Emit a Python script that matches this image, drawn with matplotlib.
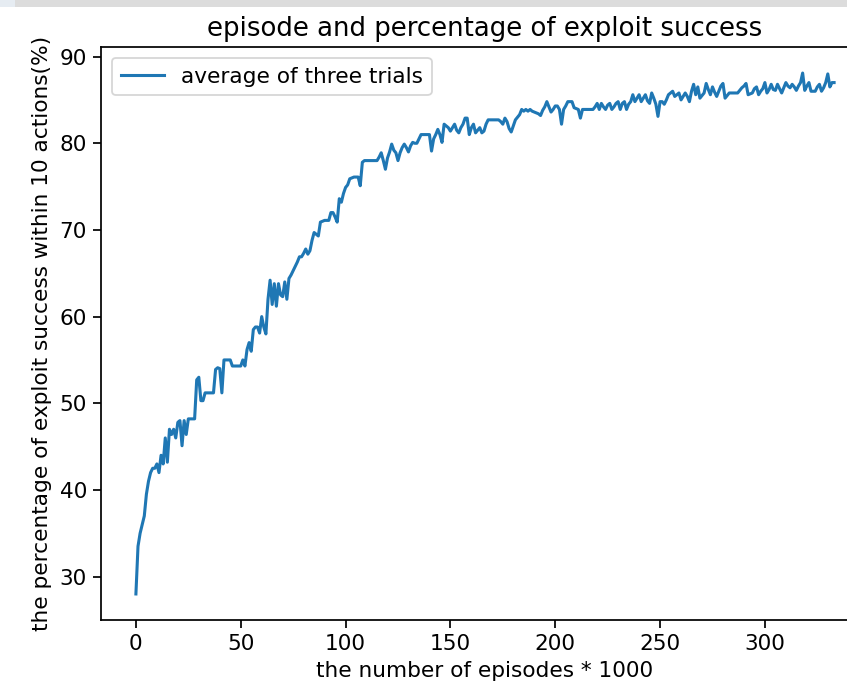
import matplotlib
matplotlib.use("Agg")
import matplotlib.pyplot as plt
from matplotlib.patches import Rectangle

title = "episode and percentage of exploit success"
xlabel = "the number of episodes * 1000"
ylabel = "the percentage of exploit success within 10 actions(%)"
legend_label = "average of three trials"

success_rate = [
    28, 33.5, 35, 36, 37, 39.5, 41, 42, 42.5, 42.5,
    43, 42, 44, 43, 46, 43.2, 47, 46.4, 47, 46,
    47.8, 48, 45.1, 48, 46.4, 48.2, 48.2, 48.2, 48.2, 52.7,
    53, 50.3, 50.3, 51.2, 51.2, 51.2, 51.2, 51.2, 53.9, 54.1,
    54, 51.2, 55, 55, 55, 55, 54.3, 54.3, 54.3, 54.3,
    54.3, 55, 54.3, 56.2, 57, 56, 58.5, 58.8, 58.8, 58.1,
    60, 58.8, 58, 62, 64.2, 61.4, 63.8, 61.2, 63.8, 62.5,
    62.3, 64, 62, 64.4, 64.8, 65.3, 65.8, 66.3, 66.9, 66.9,
    67.3, 67.8, 67.2, 67.6, 68.8, 69.7, 69.5, 69.3, 70.9, 71,
    71.1, 71.1, 71.1, 72, 72, 71.5, 70.9, 73.6, 73.2, 74.2,
    74.9, 75.2, 75.9, 76, 76.1, 76.1, 76.1, 75.1, 77.8, 78,
    78, 78, 78, 78, 78, 78, 78.4, 78.9, 78, 77,
    78.3, 79, 79.9, 79.2, 78.9, 78, 78.9, 79.5, 79.9, 79.5,
    79, 79.7, 80.1, 80, 80, 80.5, 81, 81, 81, 81,
    81, 79.1, 80.5, 81, 81.6, 81, 80.1, 82.2, 82, 81.8,
    81.4, 81.8, 82.2, 81.5, 81.2, 81.8, 82.2, 82.9, 82.9, 81,
    81.8, 82.2, 81.2, 81.5, 81.8, 81.2, 81.4, 82.2, 82.7, 82.7,
    82.7, 82.7, 82.7, 82.7, 82.5, 82.2, 82.9, 82.5, 81.7, 81.3,
    82, 82.7, 83, 83.3, 83.9, 83.7, 83.9, 83.7, 83.9, 83.7,
    83.6, 83.5, 83.4, 83.2, 83.8, 84.2, 84.8, 84.2, 83.6, 83.9,
    84.3, 84.3, 83.9, 82.2, 83.9, 84.3, 84.8, 84.8, 84.8, 84.1,
    84, 83.9, 82.9, 83.9, 83.9, 83.9, 83.9, 83.9, 83.9, 84.2,
    84.6, 83.9, 84.6, 84.2, 83.9, 84.4, 84.6, 83.9, 84.2, 84.6,
    84.8, 83.9, 84.6, 84.8, 83.9, 84.5, 84.8, 85.6, 84.8, 85.2,
    85.6, 84.8, 85.2, 85.6, 84.9, 84.6, 85.8, 85.2, 84.5, 83.1,
    84.8, 84.8, 84.5, 85, 85.6, 85.8, 86, 85.4, 85.6, 85.8,
    85, 85.4, 85.8, 85.4, 84.8, 86, 86.8, 85.6, 86.5, 85.2,
    85.5, 85.8, 86.9, 86.2, 85.6, 86.5, 85.9, 85.4, 86, 86.6,
    86.9, 85.2, 85.5, 85.8, 85.8, 85.8, 85.8, 85.8, 86.1, 86.4,
    86.6, 86.9, 85.6, 85.7, 85.8, 86.3, 86.5, 85.6, 86, 86.3,
    87, 85.8, 86.2, 86.8, 86.2, 86.1, 86.8, 86.3, 85.8, 86.4,
    87, 86.6, 86.4, 86.8, 86.5, 86.1, 86.6, 87, 88.1, 86.1,
    86.6, 87, 86, 86, 86, 86.5, 86.8, 86, 86.4, 87,
    88, 86.5, 87, 87,
]
episodes = list(range(len(success_rate)))

W, H, DPI = 847, 687, 130
S = 1.2
plt.rcParams.update({
    "font.size": 10 * S,
    "axes.titlesize": 12 * S,
    "axes.labelsize": 10 * S,
    "xtick.labelsize": 10 * S,
    "ytick.labelsize": 10 * S,
    "legend.fontsize": 10 * S,
    "axes.linewidth": 0.8 * S,
    "xtick.major.width": 0.8 * S,
    "ytick.major.width": 0.8 * S,
    "xtick.major.size": 3.5 * S,
    "ytick.major.size": 3.5 * S,
})

fig = plt.figure(figsize=(W / DPI, H / DPI), dpi=DPI)
ax = fig.add_axes([101 / W, (H - 620) / H, (869 - 101) / W, (620 - 47) / H])

ax.plot(episodes, success_rate, color="#1f77b4", linewidth=1.7, label=legend_label)
ax.set_title(title)
ax.set_xlabel(xlabel)
ax.set_ylabel(ylabel)
ax.legend(loc="upper left")

# screenshot strip at the top
fig.patches.append(Rectangle((0, (H - 7) / H), 1, 7 / H, transform=fig.transFigure,
                             facecolor="#dcdcdc", edgecolor="none", zorder=10))
fig.patches.append(Rectangle((0, (H - 7) / H), 15 / W, 7 / H, transform=fig.transFigure,
                             facecolor="#e6ecf2", edgecolor="none", zorder=11))

fig.savefig("out.png", dpi=DPI)
